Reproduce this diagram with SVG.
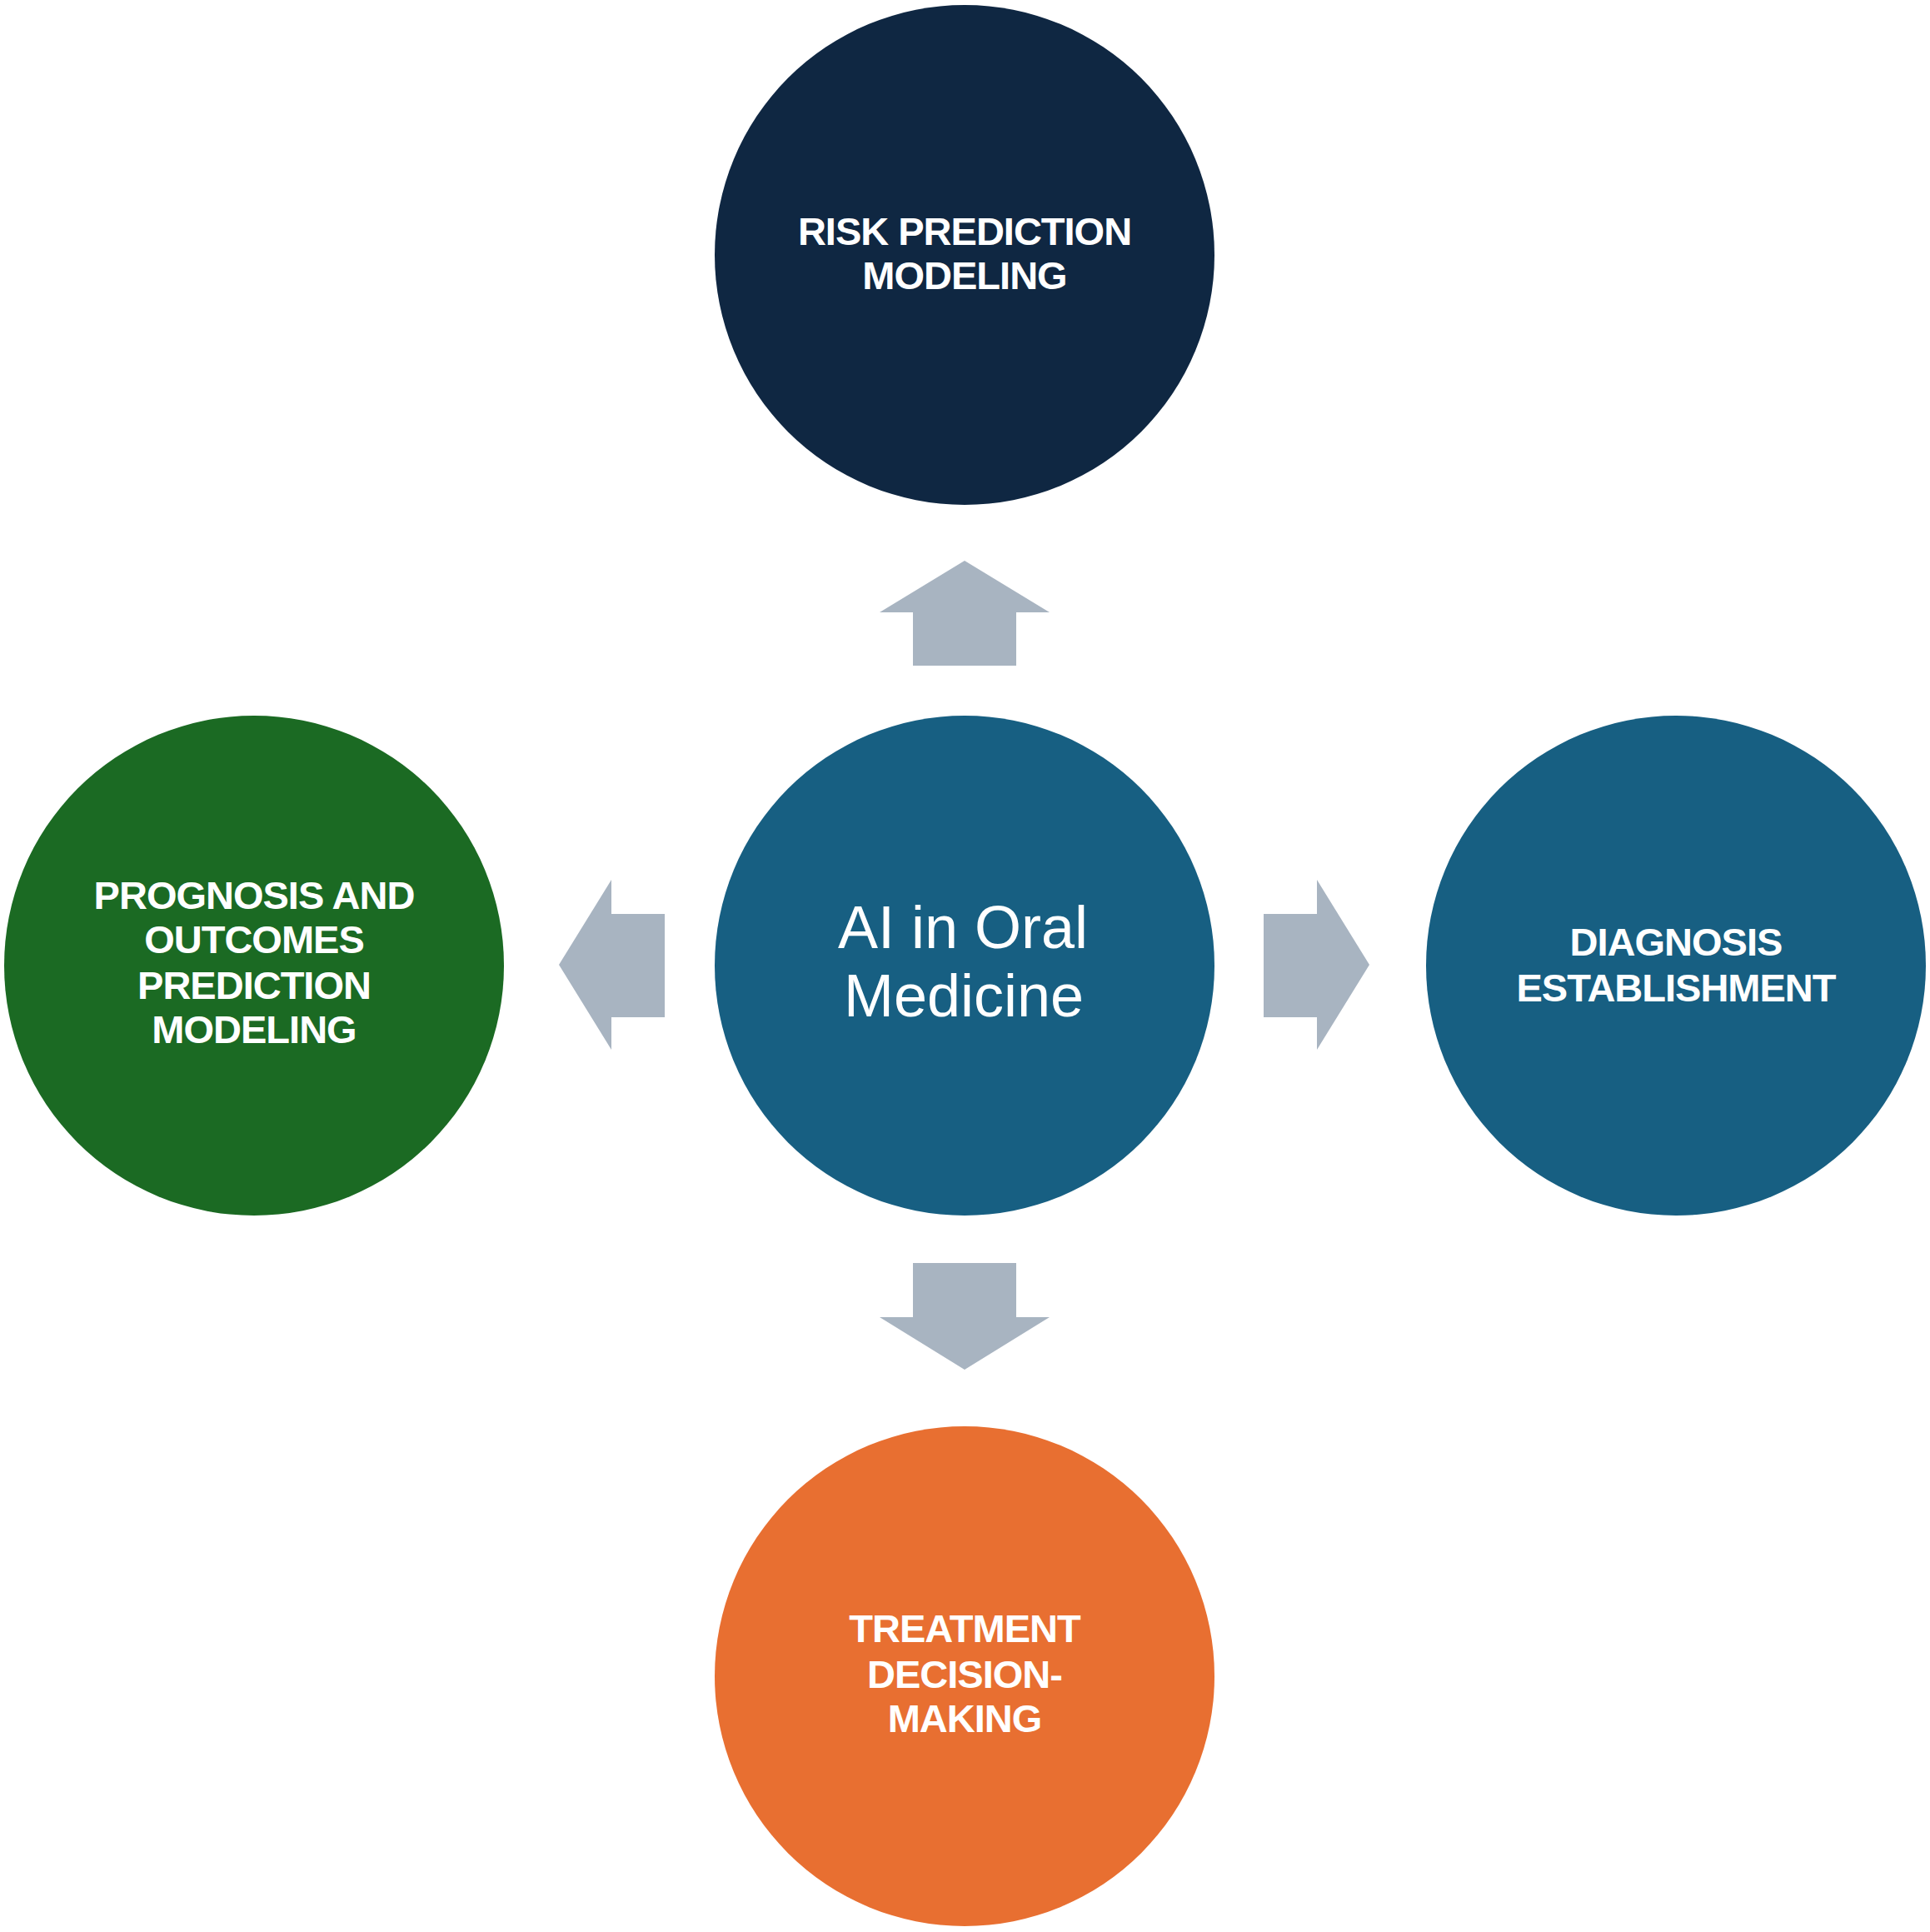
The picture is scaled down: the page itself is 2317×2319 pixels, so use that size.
<svg xmlns="http://www.w3.org/2000/svg" width="2317" height="2319" viewBox="0 0 2317 2319">
<style>
.bg{fill:#ffffff}
.arrow{fill:#A8B4C1}
.lbl{font-family:"Liberation Sans",Arial,sans-serif;font-weight:bold;font-size:47px;fill:#ffffff;text-anchor:middle;letter-spacing:-1px}
.main{font-family:"Liberation Sans",Arial,sans-serif;font-size:72px;fill:#ffffff;text-anchor:middle}
</style>
<rect class="bg" x="0" y="0" width="2317" height="2319"/>
<g id="connectors">
<polygon class="arrow" points="1158,673 1260,735 1220,735 1220,799 1096,799 1096,735 1056,735"/>
<polygon class="arrow" points="1158,1644 1260,1581 1220,1581 1220,1516 1096,1516 1096,1581 1056,1581"/>
<polygon class="arrow" points="671,1158 734,1056 734,1097 798,1097 798,1221 734,1221 734,1260"/>
<polygon class="arrow" points="1644,1158 1581,1056 1581,1097 1517,1097 1517,1221 1581,1221 1581,1260"/>
</g>
<g id="node-center">
<circle cx="1158" cy="1159" r="300" fill="#175F82"/>
<text class="main" x="1156" y="1138">AI in Oral</text>
<text class="main" x="1157" y="1220">Medicine</text>
</g>
<g id="node-risk">
<circle cx="1158" cy="306" r="300" fill="#0F2742"/>
<text class="lbl" x="1158" y="294">RISK PREDICTION</text>
<text class="lbl" x="1158" y="347">MODELING</text>
</g>
<g id="node-prognosis">
<circle cx="305" cy="1159" r="300" fill="#1B6A23"/>
<text class="lbl" x="305" y="1091">PROGNOSIS AND</text>
<text class="lbl" x="305" y="1144">OUTCOMES</text>
<text class="lbl" x="305" y="1199">PREDICTION</text>
<text class="lbl" x="305" y="1252">MODELING</text>
</g>
<g id="node-diagnosis">
<circle cx="2012" cy="1159" r="300" fill="#175F82"/>
<text class="lbl" x="2012" y="1147">DIAGNOSIS</text>
<text class="lbl" x="2012" y="1202">ESTABLISHMENT</text>
</g>
<g id="node-treatment">
<circle cx="1158" cy="2012" r="300" fill="#E86F31"/>
<text class="lbl" x="1158" y="1971">TREATMENT</text>
<text class="lbl" x="1158" y="2026">DECISION-</text>
<text class="lbl" x="1158" y="2079">MAKING</text>
</g>
</svg>
